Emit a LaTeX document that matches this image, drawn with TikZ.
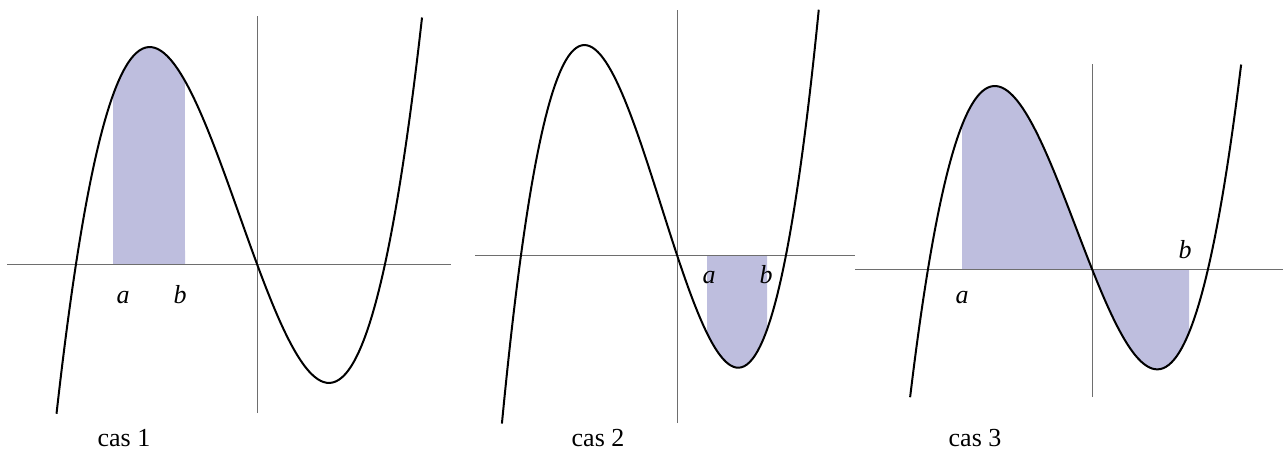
\documentclass[tikz,border=0pt]{standalone}
\usepackage{fontspec}
\setmainfont{Liberation Serif}
\definecolor{lilas}{RGB}{190,190,222}
\definecolor{gris}{RGB}{110,110,110}
\tikzset{
  axe/.style={gris,line width=0.5pt},
  courbe/.style={black,line width=1pt,smooth,samples=120},
  aire/.style={fill=lilas,draw=none},
  etiq/.style={font=\fontsize{13}{15}\selectfont\itshape,anchor=base,inner sep=0pt},
  cas/.style={font=\fontsize{13}{15}\selectfont,anchor=base,inner sep=0pt}
}
\begin{document}
\begin{tikzpicture}[x=50pt,y=50pt]
\useasboundingbox (0,0) rectangle (12.83,4.50);
% cas 1
\begin{scope}[shift={(2.57,1.86)}]
\fill[aire] (-1.44,0) -- plot[smooth,samples=40,domain=-1.44:-0.72] (\x,{1.166*\x*(\x+1.81)*(\x-1.28)}) -- (-0.72,0) -- cycle;
\draw[axe] (-2.50,0) -- (1.94,0);
\draw[axe] (0,-1.49) -- (0,2.48);
\draw[courbe] plot[domain=-2.005:1.652] (\x,{1.166*\x*(\x+1.81)*(\x-1.28)});
\node[etiq] (a1) at (-1.34,-0.39) {a};
\node[etiq] (b1) at (-0.77,-0.39) {b};
\node[cas] (cas1) at (-1.33,-1.82) {cas 1};
\end{scope}
% cas 2
\begin{scope}[shift={(6.77,1.95)}]
\fill[aire] (0.30,0) -- plot[smooth,samples=40,domain=0.30:0.90] (\x,{1.774*\x*(\x+1.56)*(\x-1.09)}) -- (0.90,0) -- cycle;
\draw[axe] (-2.02,0) -- (1.78,0);
\draw[axe] (0,-1.68) -- (0,2.45);
\draw[courbe] plot[domain=-1.751:1.418] (\x,{1.774*\x*(\x+1.56)*(\x-1.09)});
\node[etiq] (a2) at (0.32,-0.28) {a};
\node[etiq] (b2) at (0.89,-0.28) {b};
\node[cas] (cas2) at (-0.79,-1.91) {cas 2};
\end{scope}
% cas 3
\begin{scope}[shift={(10.92,1.81)}]
\fill[aire] (-1.30,0) -- plot[smooth,samples=80,domain=-1.30:0.97] (\x,{1.322*\x*(\x+1.64)*(\x-1.16)}) -- (0.97,0) -- cycle;
\draw[axe] (-2.37,0) -- (1.91,0);
\draw[axe] (0,-1.28) -- (0,2.05);
\draw[courbe] plot[domain=-1.819:1.492] (\x,{1.322*\x*(\x+1.64)*(\x-1.16)});
\node[etiq] (a3) at (-1.30,-0.34) {a};
\node[etiq] (b3) at (0.93,0.11) {b};
\node[cas] (cas3) at (-1.17,-1.77) {cas 3};
\end{scope}
\end{tikzpicture}
\end{document}
